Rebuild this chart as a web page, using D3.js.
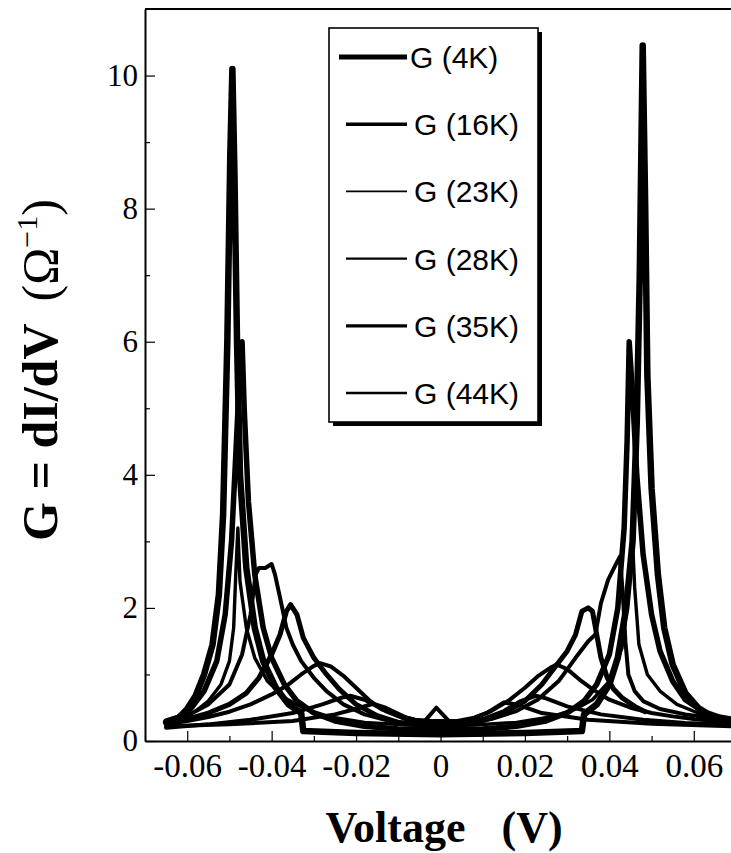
<!DOCTYPE html>
<html>
<head>
<meta charset="utf-8">
<script src="https://cdn.jsdelivr.net/npm/d3@7"></script>
<style>
  body { margin: 0; background: #fff; }
  .tick text { font-family: "Liberation Serif", "Times New Roman", serif; fill: #000; }
</style>
</head>
<body>
<div id="chart"></div>
<script>
// tick values
const xTicks = [-0.06, -0.04, -0.02, 0, 0.02, 0.04, 0.06];
const xMinorTicks = [-0.07, -0.05, -0.03, -0.01, 0.01, 0.03, 0.05, 0.07];
const yTicks = [0, 2, 4, 6, 8, 10];
const yMinorTicks = [1, 3, 5, 7, 9];

const legendLabels = ["G (4K)", "G (16K)", "G (23K)", "G (28K)", "G (35K)", "G (44K)"];

// [voltage (V), conductance] pairs
const g4K = [
  [-0.065, 0.28], [-0.062, 0.35], [-0.06, 0.48], [-0.058, 0.68], [-0.056, 1.0],
  [-0.054, 1.45], [-0.0525, 2.2], [-0.0515, 3.4], [-0.0505, 6.0], [-0.0498, 8.8],
  [-0.0493, 10.1], [-0.0488, 8.5], [-0.0482, 6.0], [-0.0475, 4.0], [-0.046, 2.6],
  [-0.044, 1.7], [-0.042, 1.2], [-0.039, 0.8], [-0.036, 0.55], [-0.033, 0.42],
  [-0.0325, 0.15], [-0.02, 0.12], [0, 0.1], [0.02, 0.12], [0.0335, 0.15],
  [0.034, 0.4], [0.037, 0.55], [0.04, 0.85], [0.042, 1.25], [0.044, 2.0],
  [0.0455, 3.0], [0.0465, 4.8], [0.0472, 7.0], [0.0479, 10.45], [0.0485, 8.0],
  [0.049, 5.5], [0.05, 3.8], [0.0515, 2.5], [0.053, 1.7], [0.055, 1.15],
  [0.058, 0.72], [0.061, 0.5], [0.064, 0.38], [0.067, 0.32], [0.07, 0.3]
];
const g16K = [
  [-0.065, 0.3], [-0.062, 0.36], [-0.059, 0.5], [-0.056, 0.75], [-0.053, 1.2],
  [-0.051, 1.9], [-0.0495, 3.0], [-0.0485, 4.3], [-0.0475, 5.6], [-0.047, 6.0],
  [-0.0465, 5.0], [-0.0455, 3.6], [-0.044, 2.5], [-0.042, 1.7], [-0.04, 1.25],
  [-0.037, 0.85], [-0.034, 0.6], [-0.03, 0.42], [-0.025, 0.3], [-0.018, 0.22],
  [-0.01, 0.18], [0, 0.17], [0.01, 0.18], [0.018, 0.22], [0.025, 0.3],
  [0.03, 0.42], [0.034, 0.6], [0.037, 0.85], [0.04, 1.3], [0.042, 2.0],
  [0.0435, 3.2], [0.0442, 4.5], [0.0447, 6.0], [0.0455, 5.2], [0.0465, 4.0],
  [0.048, 2.8], [0.05, 1.9], [0.052, 1.35], [0.055, 0.9], [0.058, 0.62],
  [0.062, 0.45], [0.066, 0.36], [0.07, 0.32]
];
const g23K = [
  [-0.065, 0.3], [-0.061, 0.36], [-0.058, 0.45], [-0.055, 0.6], [-0.052, 0.85],
  [-0.05, 1.2], [-0.049, 1.7], [-0.0485, 2.5], [-0.048, 3.2], [-0.0475, 2.4],
  [-0.046, 1.7], [-0.044, 1.25], [-0.041, 0.9], [-0.037, 0.65], [-0.032, 0.48],
  [-0.026, 0.36], [-0.018, 0.28], [-0.008, 0.24], [0, 0.23], [0.008, 0.24],
  [0.018, 0.28], [0.026, 0.36], [0.032, 0.48], [0.036, 0.62], [0.04, 0.9],
  [0.043, 1.4], [0.0445, 2.2], [0.0455, 3.0], [0.046, 2.3], [0.047, 1.45],
  [0.049, 1.0], [0.052, 0.75], [0.056, 0.55], [0.061, 0.42], [0.066, 0.35],
  [0.07, 0.32]
];
const g28K = [
  [-0.065, 0.28], [-0.06, 0.38], [-0.055, 0.55], [-0.05, 0.85], [-0.047, 1.3],
  [-0.045, 1.9], [-0.0438, 2.5], [-0.043, 2.6], [-0.0415, 2.6], [-0.04, 2.66],
  [-0.0392, 2.5], [-0.038, 2.15], [-0.0365, 1.7], [-0.035, 1.45], [-0.033, 1.2],
  [-0.03, 0.95], [-0.027, 0.75], [-0.023, 0.55], [-0.018, 0.4], [-0.012, 0.3],
  [-0.005, 0.25], [0, 0.24], [0.006, 0.27], [0.012, 0.33], [0.018, 0.45],
  [0.023, 0.62], [0.028, 0.9], [0.032, 1.25], [0.035, 1.5], [0.0367, 1.6],
  [0.038, 2.07], [0.0397, 2.42], [0.0415, 2.65], [0.0425, 2.77], [0.0432, 2.2],
  [0.0438, 1.5], [0.0445, 1.0], [0.046, 0.75], [0.048, 0.6], [0.052, 0.48],
  [0.058, 0.4], [0.065, 0.34], [0.07, 0.32]
];
const g35K = [
  [-0.065, 0.27], [-0.06, 0.33], [-0.055, 0.42], [-0.05, 0.55], [-0.046, 0.72],
  [-0.043, 0.95], [-0.04, 1.3], [-0.038, 1.6], [-0.0365, 1.95], [-0.0355, 2.05],
  [-0.034, 1.9], [-0.0325, 1.55], [-0.03, 1.25], [-0.027, 1.0], [-0.024, 0.78],
  [-0.02, 0.55], [-0.015, 0.38], [-0.01, 0.28], [-0.005, 0.24], [0, 0.22],
  [0.005, 0.24], [0.01, 0.3], [0.015, 0.42], [0.02, 0.6], [0.024, 0.85],
  [0.027, 1.1], [0.03, 1.35], [0.032, 1.6], [0.0335, 1.95], [0.035, 2.0],
  [0.036, 1.95], [0.037, 1.6], [0.038, 1.25], [0.0395, 0.95], [0.041, 0.78],
  [0.043, 0.65], [0.046, 0.52], [0.0485, 0.44]
];
const g44K = [
  [-0.065, 0.25], [-0.06, 0.3], [-0.055, 0.36], [-0.05, 0.44], [-0.045, 0.55],
  [-0.04, 0.7], [-0.036, 0.85], [-0.033, 1.0], [-0.03, 1.13], [-0.0285, 1.17],
  [-0.026, 1.12], [-0.023, 0.98], [-0.02, 0.8], [-0.017, 0.62], [-0.014, 0.48],
  [-0.01, 0.38], [-0.006, 0.32], [-0.002, 0.3], [0.004, 0.3], [0.008, 0.35],
  [0.012, 0.45], [0.016, 0.6], [0.02, 0.8], [0.023, 0.97], [0.026, 1.1],
  [0.0275, 1.15], [0.03, 1.08], [0.033, 0.92], [0.036, 0.78], [0.04, 0.62],
  [0.045, 0.5], [0.05, 0.42], [0.055, 0.37], [0.06, 0.33], [0.065, 0.3],
  [0.07, 0.28]
];
// two more traces in the figure that have no legend entry
const gExtraA = [
  [-0.065, 0.2], [-0.055, 0.25], [-0.045, 0.32], [-0.035, 0.42], [-0.028, 0.55],
  [-0.0235, 0.65], [-0.0214, 0.68], [-0.018, 0.62], [-0.013, 0.45], [-0.008, 0.32],
  [-0.002, 0.26], [0.004, 0.26], [0.01, 0.33], [0.015, 0.45], [0.019, 0.6],
  [0.0226, 0.68], [0.025, 0.64], [0.03, 0.52], [0.038, 0.4], [0.048, 0.32],
  [0.058, 0.27], [0.07, 0.24]
];
const gExtraB = [
  [-0.065, 0.22], [-0.05, 0.25], [-0.035, 0.3], [-0.025, 0.4], [-0.019, 0.5],
  [-0.016, 0.56], [-0.013, 0.5], [-0.008, 0.35], [-0.004, 0.28], [-0.001, 0.5],
  [0.002, 0.3], [0.006, 0.3], [0.011, 0.42], [0.015, 0.58], [0.018, 0.55],
  [0.024, 0.42], [0.035, 0.32], [0.05, 0.26], [0.07, 0.22]
];

const curves = [g4K, g16K, g23K, g28K, g35K, g44K, gExtraA, gExtraB];
const lineWidths = [6.5, 5.5, 3.4, 4, 5, 4, 4, 4];
const legendWidths = [4.8, 3.6, 1.8, 2.4, 3.2, 2.4];

const width = 731;
const height = 853;
const plot = { left: 145, right: 736, top: 9, bottom: 741 };

var svg = d3
  .select("#chart")
  .append("svg")
  .attr("width", width)
  .attr("height", height)
  .style("background", "#fff");

var x = d3.scaleLinear().domain([-0.07, 0.07]).range([plot.left, plot.right]);
var y = d3.scaleLinear().domain([0, 11]).range([plot.bottom, plot.top]);

svg
  .append("clipPath")
  .attr("id", "plot-clip")
  .append("rect")
  .attr("x", plot.left)
  .attr("y", plot.top)
  .attr("width", plot.right - plot.left)
  .attr("height", plot.bottom - plot.top);

// curves
var line = d3
  .line()
  .x((d) => x(d[0]))
  .y((d) => y(d[1]));

svg
  .append("g")
  .attr("clip-path", "url(#plot-clip)")
  .selectAll("path")
  .data(curves)
  .enter()
  .append("path")
  .attr("d", line)
  .attr("fill", "none")
  .attr("stroke", "#000")
  .attr("stroke-width", (d, i) => lineWidths[i])
  .attr("stroke-linejoin", "round")
  .attr("stroke-linecap", "round");

// axes, ticks pointing inward
var xAxis = d3
  .axisBottom(x)
  .tickValues(xTicks)
  .tickSizeInner(-10)
  .tickSizeOuter(0)
  .tickPadding(13)
  .tickFormat((d) => (d === 0 ? "0" : d.toFixed(2)));

var gx = svg
  .append("g")
  .attr("transform", "translate(0," + plot.bottom + ")")
  .call(xAxis);
gx.selectAll("text").attr("font-size", 33);

svg
  .append("g")
  .attr("transform", "translate(0," + plot.bottom + ")")
  .call(d3.axisBottom(x).tickValues(xMinorTicks).tickSizeInner(-5).tickSizeOuter(0).tickFormat(""))
  .select(".domain")
  .remove();

var yAxis = d3
  .axisLeft(y)
  .tickValues(yTicks)
  .tickSizeInner(-10)
  .tickSizeOuter(0)
  .tickPadding(7);

var gy = svg
  .append("g")
  .attr("transform", "translate(" + plot.left + ",0)")
  .call(yAxis);
gy.selectAll("text").attr("font-size", 31);

svg
  .append("g")
  .attr("transform", "translate(" + plot.left + ",0)")
  .call(d3.axisLeft(y).tickValues(yMinorTicks).tickSizeInner(-5).tickSizeOuter(0).tickFormat(""))
  .select(".domain")
  .remove();

svg.selectAll(".domain").attr("stroke-width", 2);
svg.selectAll(".tick line").attr("stroke-width", 1.2);

// frame line along the top
svg
  .append("line")
  .attr("x1", plot.left)
  .attr("x2", plot.right)
  .attr("y1", y(11))
  .attr("y2", y(11))
  .attr("stroke", "#000")
  .attr("stroke-width", 2);

// axis titles
svg
  .append("text")
  .attr("x", 444)
  .attr("y", 842)
  .attr("text-anchor", "middle")
  .attr("font-family", "'Liberation Serif', 'Times New Roman', serif")
  .attr("font-weight", "bold")
  .attr("font-size", 44)
  .call((t) => {
    t.append("tspan").text("Voltage");
    t.append("tspan").attr("dx", 36).text("(V)");
  });

var ylab = svg
  .append("text")
  .attr("transform", "translate(57,370) rotate(-90)")
  .attr("text-anchor", "middle")
  .attr("font-family", "'Liberation Serif', 'Times New Roman', serif")
  .attr("font-size", 50);
ylab.append("tspan").attr("font-weight", "bold").text("G = dI/dV");
ylab.append("tspan").attr("dx", 22).text("(\u03A9");
ylab.append("tspan").attr("font-size", 30).attr("dy", -20).text("\u22121");
ylab.append("tspan").attr("dy", 20).text(")");

// legend box with drop shadow
var legend = svg.append("g").attr("id", "legend");
legend
  .append("rect")
  .attr("x", 333)
  .attr("y", 32)
  .attr("width", 209)
  .attr("height", 394)
  .attr("fill", "#000");
legend
  .append("rect")
  .attr("x", 329)
  .attr("y", 28)
  .attr("width", 209)
  .attr("height", 394)
  .attr("fill", "#fff")
  .attr("stroke", "#000")
  .attr("stroke-width", 1.6);

var rows = legend
  .selectAll(".legend-row")
  .data(legendLabels)
  .enter()
  .append("g")
  .attr("class", "legend-row")
  .attr("transform", (d, i) => "translate(0," + (57 + i * 67.2) + ")");

rows
  .append("line")
  .attr("x1", (d, i) => (i === 0 ? 339 : 346))
  .attr("x2", 407)
  .attr("stroke", "#000")
  .attr("stroke-width", (d, i) => legendWidths[i]);

rows
  .append("text")
  .attr("x", (d, i) => (i === 0 ? 410 : 414))
  .attr("y", 11)
  .attr("font-family", "'Liberation Sans', Arial, sans-serif")
  .attr("font-size", 30)
  .text((d) => d);
</script>
</body>
</html>
